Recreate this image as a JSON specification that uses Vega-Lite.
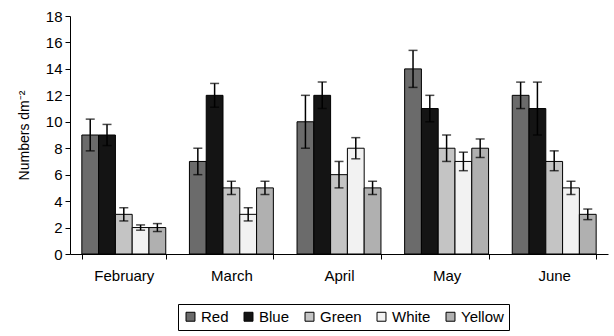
{
  "$schema": "https://vega.github.io/schema/vega-lite/v6.json",
  "width": 538,
  "height": 238,
  "autosize": "none",
  "padding": {"left": 70, "top": 16, "right": 6, "bottom": 82},
  "background": "white",
  "config": {
    "font": "Liberation Sans",
    "view": {"stroke": null},
    "axis": {"labelFont": "Liberation Sans", "titleFont": "Liberation Sans", "labelFontSize": 15, "titleFontSize": 14, "titleFontWeight": "normal", "labelColor": "black", "titleColor": "black", "domainColor": "black", "tickColor": "black", "grid": false, "labelOverlap": false},
    "axisY": {"values": [0, 2, 4, 6, 8, 10, 12, 14, 16, 18], "tickSize": 5, "labelPadding": 3, "titlePadding": 14}
  },
  "data": {"values": [
    {"month": "February", "color": "Red", "value": 9, "lo": 7.8, "hi": 10.2},
    {"month": "February", "color": "Blue", "value": 9, "lo": 8.2, "hi": 9.8},
    {"month": "February", "color": "Green", "value": 3, "lo": 2.5, "hi": 3.5},
    {"month": "February", "color": "White", "value": 2, "lo": 1.8, "hi": 2.2},
    {"month": "February", "color": "Yellow", "value": 2, "lo": 1.7, "hi": 2.3},
    {"month": "March", "color": "Red", "value": 7, "lo": 6, "hi": 8},
    {"month": "March", "color": "Blue", "value": 12, "lo": 11.1, "hi": 12.9},
    {"month": "March", "color": "Green", "value": 5, "lo": 4.5, "hi": 5.5},
    {"month": "March", "color": "White", "value": 3, "lo": 2.5, "hi": 3.5},
    {"month": "March", "color": "Yellow", "value": 5, "lo": 4.5, "hi": 5.5},
    {"month": "April", "color": "Red", "value": 10, "lo": 8, "hi": 12},
    {"month": "April", "color": "Blue", "value": 12, "lo": 11, "hi": 13},
    {"month": "April", "color": "Green", "value": 6, "lo": 5, "hi": 7},
    {"month": "April", "color": "White", "value": 8, "lo": 7.2, "hi": 8.8},
    {"month": "April", "color": "Yellow", "value": 5, "lo": 4.5, "hi": 5.5},
    {"month": "May", "color": "Red", "value": 14, "lo": 12.6, "hi": 15.4},
    {"month": "May", "color": "Blue", "value": 11, "lo": 10, "hi": 12},
    {"month": "May", "color": "Green", "value": 8, "lo": 7, "hi": 9},
    {"month": "May", "color": "White", "value": 7, "lo": 6.3, "hi": 7.7},
    {"month": "May", "color": "Yellow", "value": 8, "lo": 7.3, "hi": 8.7},
    {"month": "June", "color": "Red", "value": 12, "lo": 11, "hi": 13},
    {"month": "June", "color": "Blue", "value": 11, "lo": 9, "hi": 13},
    {"month": "June", "color": "Green", "value": 7, "lo": 6.3, "hi": 7.8},
    {"month": "June", "color": "White", "value": 5, "lo": 4.5, "hi": 5.5},
    {"month": "June", "color": "Yellow", "value": 3, "lo": 2.6, "hi": 3.4}
  ]},
  "encoding": {
    "x": {"field": "month", "type": "nominal", "sort": ["February", "March", "April", "May", "June"],
          "scale": {"paddingInner": 0.22, "paddingOuter": 0.11},
          "axis": {"title": null, "labelAngle": 0, "tickBand": "extent", "tickSize": 5, "labelPadding": 9}},
    "xOffset": {"field": "color", "type": "nominal", "sort": ["Red", "Blue", "Green", "White", "Yellow"], "scale": {"paddingInner": 0}}
  },
  "layer": [
    {
      "mark": {"type": "bar", "stroke": "black", "strokeWidth": 1},
      "encoding": {
        "y": {"field": "value", "type": "quantitative", "scale": {"domain": [0, 18], "nice": false},
              "axis": {"title": "Numbers dm⁻²"}},
        "fill": {"field": "color", "type": "nominal", "sort": ["Red", "Blue", "Green", "White", "Yellow"],
                 "scale": {"domain": ["Red", "Blue", "Green", "White", "Yellow"], "range": ["#6b6b6b", "#141414", "#c4c4c4", "#f2f2f2", "#b0b0b0"]},
                 "legend": {"title": null, "orient": "none", "legendX": 108, "legendY": 288, "direction": "horizontal", "symbolType": "square", "symbolSize": 80, "symbolStrokeColor": "black", "symbolStrokeWidth": 1, "labelFontSize": 15, "labelColor": "black", "labelFont": "Liberation Sans", "labelOffset": 3, "strokeColor": "black", "padding": 5, "columnPadding": 12}}
      }
    },
    {
      "mark": {"type": "rule", "color": "black", "strokeWidth": 1.5},
      "encoding": {"y": {"field": "lo", "type": "quantitative", "axis": {"title": "Numbers dm⁻²"}}, "y2": {"field": "hi"}}
    },
    {
      "mark": {"type": "tick", "color": "black", "thickness": 1.5, "size": 9},
      "encoding": {"y": {"field": "hi", "type": "quantitative", "axis": {"title": "Numbers dm⁻²"}}}
    },
    {
      "mark": {"type": "tick", "color": "black", "thickness": 1.5, "size": 9},
      "encoding": {"y": {"field": "lo", "type": "quantitative", "axis": {"title": "Numbers dm⁻²"}}}
    }
  ]
}
